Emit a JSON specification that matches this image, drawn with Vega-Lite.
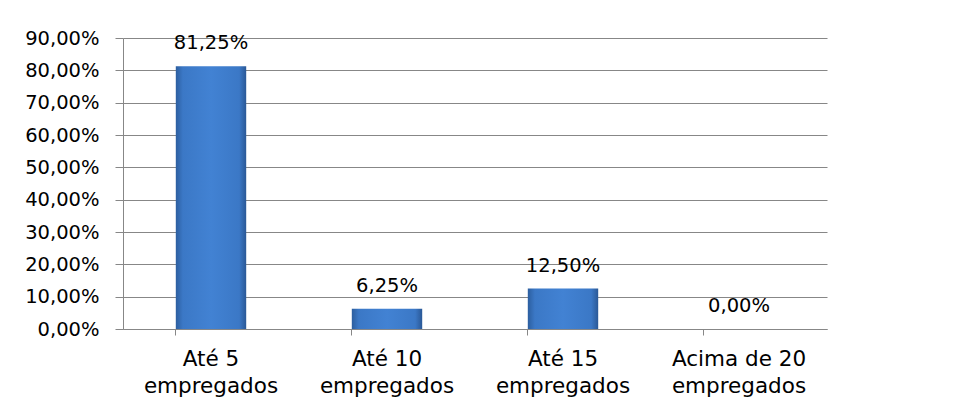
{
  "$schema": "https://vega.github.io/schema/vega-lite/v6.json",
  "width": 704,
  "height": 291,
  "autosize": {"type": "none"},
  "padding": {"left": 123, "top": 38, "right": 137, "bottom": 79},
  "background": "white",
  "config": {
    "locale": {"number": {"decimal": ",", "thousands": ".", "grouping": [3], "currency": ["R$ ", ""]}},
    "view": {"stroke": null},
    "font": "DejaVu Sans"
  },
  "data": {
    "values": [
      {"faixa": "Até 5 empregados", "percentual": 0.8125},
      {"faixa": "Até 10 empregados", "percentual": 0.0625},
      {"faixa": "Até 15 empregados", "percentual": 0.125},
      {"faixa": "Acima de 20 empregados", "percentual": 0.0}
    ]
  },
  "encoding": {
    "x": {
      "field": "faixa",
      "type": "nominal",
      "sort": null,
      "scale": {"paddingInner": 0.6, "paddingOuter": 0.3},
      "axis": {
        "title": null,
        "labelAngle": 0,
        "labelExpr": "[replace(datum.label, ' empregados', ''), 'empregados']",
        "labelFontSize": 21.5,
        "labelColor": "#000000",
        "labelLineHeight": 27,
        "labelPadding": 13,
        "tickSize": 6,
        "bandPosition": 0,
        "tickColor": "#878787",
        "domainColor": "#878787",
        "grid": false
      }
    },
    "y": {
      "field": "percentual",
      "type": "quantitative",
      "scale": {"domain": [0, 0.9], "nice": false},
      "axis": {
        "title": null,
        "values": [0, 0.1, 0.2, 0.3, 0.4, 0.5, 0.6, 0.7, 0.8, 0.9],
        "format": ".2%",
        "labelFontSize": 19.5,
        "labelColor": "#000000",
        "labelPadding": 16,
        "tickSize": 8,
        "tickColor": "#878787",
        "domainColor": "#878787",
        "gridColor": "#878787",
        "grid": true
      }
    }
  },
  "layer": [
    {
      "mark": {
        "type": "bar",
        "color": {
          "gradient": "linear",
          "x1": 0, "x2": 1, "y1": 0, "y2": 0,
          "stops": [
            {"offset": 0, "color": "#2c5e9f"},
            {"offset": 0.1, "color": "#3b78c6"},
            {"offset": 0.5, "color": "#4282d3"},
            {"offset": 0.9, "color": "#3b78c6"},
            {"offset": 1, "color": "#2a5896"}
          ]
        }
      }
    },
    {
      "mark": {"type": "text", "baseline": "alphabetic", "dy": -17, "fontSize": 19.5, "color": "#000000"},
      "encoding": {"text": {"field": "percentual", "type": "quantitative", "format": ".2%"}}
    }
  ]
}
